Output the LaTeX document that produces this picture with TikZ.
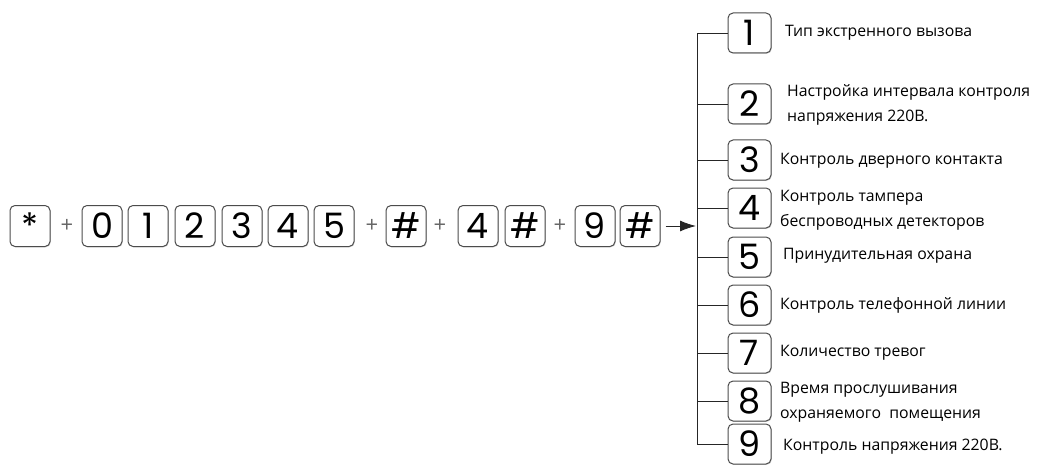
\documentclass[tikz,border=0pt]{standalone}
\usepackage{fontspec}
\setmainfont{Open Sans}
\newfontfamily\keyfont{Poppins}
\usetikzlibrary{shadows,arrows.meta}
\begin{document}
\begin{tikzpicture}[x=1pt,y=-1pt,
  keybox/.style={draw=black!70, line width=1pt, rounded corners=5pt, fill=white,
    minimum width=40pt, minimum height=41pt, inner sep=0pt,
    font=\keyfont\fontsize{35}{35}\selectfont,
    drop shadow={shadow xshift=0.8pt,shadow yshift=-0.8pt,opacity=0.35,fill=black!50}},
  rkey/.style={keybox, minimum width=43pt, minimum height=40pt},
  plus/.style={font=\fontsize{22}{22}\selectfont, text=black!60, inner sep=0pt},
  desc/.style={anchor=west, align=left, inner sep=0pt, font=\fontsize{15.8}{25}\selectfont},
  wire/.style={line width=0.9pt, black!85}]
\useasboundingbox (0,0) rectangle (1057,468);
% left sequence
\node[keybox] (ks) at (30,226) {*};
\node[plus] (p1) at (67,226) {+};
\node[keybox] (k0) at (102,226) {0};
\node[keybox] (k1) at (148,226) {1};
\node[keybox] (k2) at (195,226) {2};
\node[keybox] (k3) at (242,226) {3};
\node[keybox] (k4) at (288,226) {4};
\node[keybox] (k5) at (334,226) {5};
\node[plus] (p2) at (372,226) {+};
\node[keybox] (h1) at (406,226) {\#};
\node[plus] (p3) at (440,226) {+};
\node[keybox] (k4b) at (478,226) {4};
\node[keybox] (h2) at (525,226) {\#};
\node[plus] (p4) at (560,226) {+};
\node[keybox] (k9) at (595,226) {9};
\node[keybox] (h3) at (640,226) {\#};
\coordinate (trunk) at (697,226);
\draw[wire, -{Latex[length=16pt,width=11pt]}] ([xshift=5pt]h3.east) -- ([xshift=-1pt]trunk);
% right column
\node[rkey] (r1) at (749.5,33) {1};
\node[rkey] (r2) at (749.5,104) {2};
\node[rkey] (r3) at (749.5,160) {3};
\node[rkey] (r4) at (749.5,208) {4};
\node[rkey] (r5) at (749.5,257) {5};
\node[rkey] (r6) at (749.5,305) {6};
\node[rkey] (r7) at (749.5,353) {7};
\node[rkey] (r8) at (749.5,401) {8};
\node[rkey] (r9) at (749.5,444) {9};
\draw[wire] (r1.west) -- (r1.west -| trunk) -- (r9.west -| trunk) -- (r9.west);
\foreach \i in {2,...,8} \draw[wire] (r\i.west) -- (r\i.west -| trunk);
% descriptions
\node[desc] (d1) at (785,33) {Тип экстренного вызова};
\node[desc] (d2) at (787,105) {Настройка интервала контроля\\напряжения 220В.};
\node[desc] (d3) at (780,161) {Контроль дверного контакта};
\node[desc] (d4) at (780,210) {Контроль тампера\\беспроводных детекторов};
\node[desc] (d5) at (783,256) {Принудительная охрана};
\node[desc] (d6) at (780,305) {Контроль телефонной линии};
\node[desc] (d7) at (780,353) {Количество тревог};
\node[desc] (d8) at (780,402) {Время прослушивания\\охраняемого\ \ помещения};
\node[desc] (d9) at (783,447) {Контроль напряжения 220В.};
\end{tikzpicture}
\end{document}
